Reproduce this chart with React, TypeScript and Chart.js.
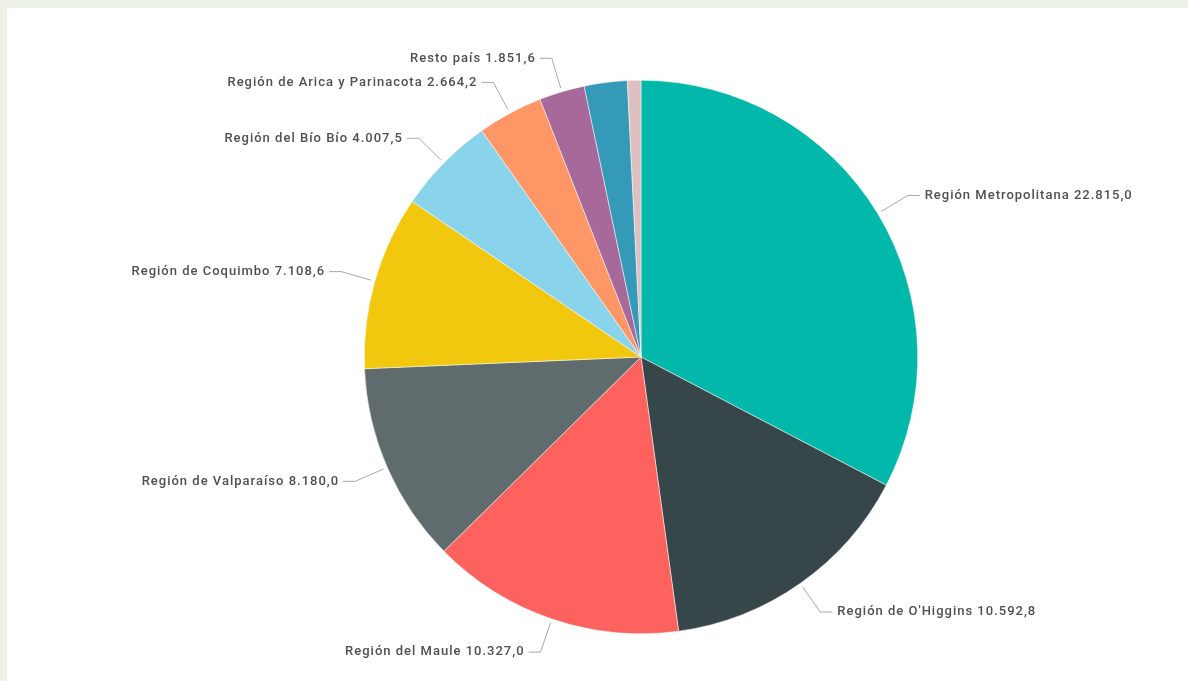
import React, { useEffect, useRef } from "react";
import { Chart, registerables } from "chart.js";

Chart.register(...registerables);

const categories = [
  "Región Metropolitana",
  "Región de O'Higgins",
  "Región del Maule",
  "Región de Valparaíso",
  "Región de Coquimbo",
  "Región del Bío Bío",
  "Región de Arica y Parinacota",
  "Resto país",
  "Otra región (sin etiqueta)",
  "Otra región menor (sin etiqueta)",
];
const values = [22815.0, 10592.8, 10327.0, 8180.0, 7108.6, 4007.5, 2664.2, 1851.6, 1750.0, 550.0];
const valueLabels = ["22.815,0", "10.592,8", "10.327,0", "8.180,0", "7.108,6", "4.007,5", "2.664,2", "1.851,6", "", ""];
const showLabel = [true, true, true, true, true, true, true, true, false, false];
const colors = ["#01B8AA", "#374649", "#FD625E", "#5F6B6D", "#F2C80F", "#8AD4EB", "#FE9666", "#A66999", "#3599B8", "#DFBFBF"];

const FONT = "500 13px Roboto, 'Noto Sans', sans-serif";

const leaderLabels = {
  id: "leaderLabels",
  afterDatasetsDraw(chart: any) {
    const ctx = chart.ctx;
    const meta = chart.getDatasetMeta(0);
    ctx.save();
    ctx.font = FONT;
    (ctx as any).letterSpacing = "1px";
    ctx.textBaseline = "middle";
    meta.data.forEach((arc: any, i: number) => {
      if (!showLabel[i]) return;
      const p = arc.getProps(["x", "y", "startAngle", "endAngle", "outerRadius"], true);
      const a = (p.startAngle + p.endAngle) / 2;
      const r = p.outerRadius;
      const sx = p.x + (r + 4) * Math.cos(a);
      const sy = p.y + (r + 4) * Math.sin(a);
      const ex = p.x + (r + 35) * Math.cos(a);
      const ey = p.y + (r + 35) * Math.sin(a);
      const right = Math.cos(a) >= 0;
      const hx = ex + (right ? 12 : -12);
      ctx.strokeStyle = "#A8A8A8";
      ctx.lineWidth = 1;
      ctx.beginPath();
      ctx.moveTo(sx, sy);
      ctx.lineTo(ex, ey);
      ctx.lineTo(hx, ey);
      ctx.stroke();
      ctx.fillStyle = "#505050";
      ctx.textAlign = right ? "left" : "right";
      ctx.fillText(categories[i] + " " + valueLabels[i], hx + (right ? 5 : -4), ey);
    });
    ctx.restore();
  },
};

export default function App() {
  const ref = useRef<HTMLCanvasElement>(null);
  useEffect(() => {
    if (!ref.current) return;
    const chart = new Chart(ref.current, {
      type: "pie",
      data: {
        labels: categories,
        datasets: [
          {
            data: values,
            backgroundColor: colors,
            borderColor: "#FFFFFF",
            borderWidth: 0.5,
          },
        ],
      },
      options: {
        responsive: false,
        animation: false,
        devicePixelRatio: 1,
        layout: { padding: { left: 364, right: 270, top: 80, bottom: 47 } },
        plugins: {
          legend: { display: false },
          tooltip: { enabled: false },
        },
      },
      plugins: [leaderLabels],
    });
    return () => chart.destroy();
  }, []);
  return (
    <div style={{ position: "fixed", left: 0, top: 0, width: 1188, height: 681, background: "#EEF1E8", overflow: "hidden" }}>
      <div style={{ position: "absolute", left: 7, top: 8, right: 0, bottom: 0, background: "#FFFFFF" }} />
      <canvas ref={ref} width={1188} height={681} style={{ position: "absolute", left: 0, top: 0, width: 1188, height: 681 }} />
    </div>
  );
}
